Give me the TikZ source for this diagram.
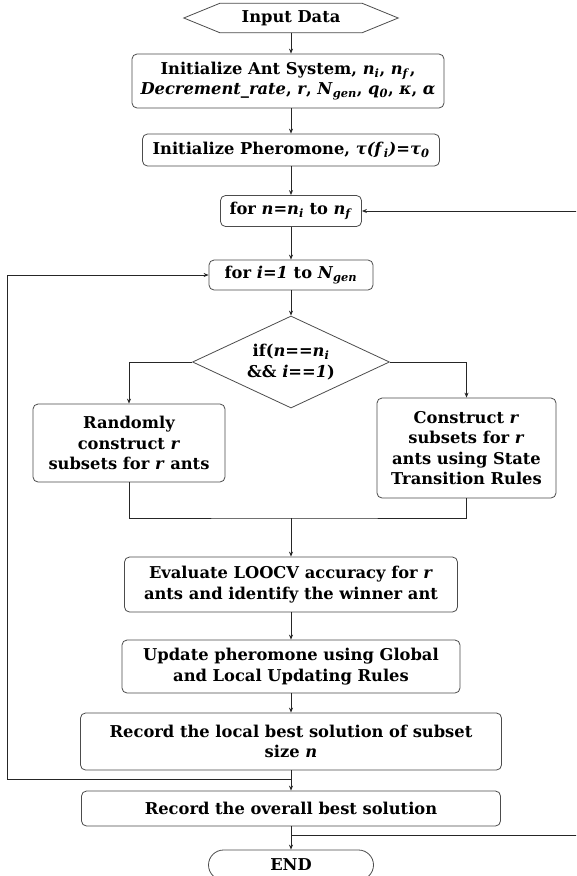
\documentclass[tikz,border=0pt]{standalone}
\usepackage{fontspec}
\setmainfont{DejaVu Serif}
\usetikzlibrary{arrows.meta,shapes.geometric,shapes.misc}
% italic variable and italic subscript
\newcommand\mv[1]{\textit{#1}}
\newcommand\sbs[1]{\textsubscript{\textit{#1}}}

\begin{document}
\begin{tikzpicture}[x=1pt,y=-1pt,
  font=\fontsize{16.3}{20.5}\selectfont\bfseries,
  box/.style={draw=black!70, line width=0.8pt, rounded corners=5pt,
              align=center, inner sep=0pt},
  link/.style={draw=black!85, line width=0.8pt},
  arr/.style={link, -{Stealth[length=5pt,width=4pt]}},
]
\useasboundingbox (0,0) rectangle (576,876);
\clip (0,0) rectangle (576,876);
\fill[white] (0,0) rectangle (576,876);

% start: hexagonal input block
\node (input) at (291,18) [minimum width=214pt, minimum height=29pt, inner sep=0pt] {Input Data};
\draw[draw=black!70, line width=0.8pt]
  (input.west) -- ([xshift=36pt]input.north west) -- ([xshift=-36pt]input.north east)
  -- (input.east) -- ([xshift=-36pt]input.south east) -- ([xshift=36pt]input.south west) -- cycle;

\node[box, minimum width=312pt, minimum height=54pt] (init) at (288,81)
  {Initialize Ant System, \mv{n}\sbs{i}, \mv{n}\sbs{f},\\
   \mv{Decrement\_rate}, \mv{r}, \mv{N}\sbs{gen}, \mv{q}\sbs{0}, \mv{κ}, \mv{α}};
\node[box, minimum width=297pt, minimum height=32pt] (pher) at (291,150)
  {Initialize Pheromone, \mv{τ(f}\sbs{i}\mv{)}=\mv{τ}\sbs{0}};
\node[box, minimum width=141pt, minimum height=31pt] (forn) at (291,211)
  {for \mv{n}=\mv{n}\sbs{i} to \mv{n}\sbs{f}};
\node[box, minimum width=164pt, minimum height=30pt] (fori) at (291,275)
  {for \mv{i}=\mv{1} to \mv{N}\sbs{gen}};
\node[draw=black!70, line width=0.8pt, diamond, aspect=2.1, inner sep=0pt,
      minimum width=197pt, minimum height=92pt, align=center] (dec) at (291,362)
  {if(\mv{n}==\mv{n}\sbs{i}\\ \&\& \mv{i}==\mv{1})};
\node[box, minimum width=192pt, minimum height=78pt] (left) at (129,443)
  {Randomly\\ construct \mv{r}\\ subsets for \mv{r} ants};
\node[box, minimum width=179pt, minimum height=100pt] (right) at (466.5,448)
  {Construct \mv{r}\\ subsets for \mv{r}\\ ants using State\\ Transition Rules};
\node[box, minimum width=333pt, minimum height=55pt] (eval) at (291,584.5)
  {Evaluate LOOCV accuracy for \mv{r}\\ ants and identify the winner ant};
\node[box, minimum width=338pt, minimum height=53pt] (upd) at (291,666.5)
  {Update pheromone using Global\\ and Local Updating Rules};
\node[box, minimum width=421pt, minimum height=57pt] (local) at (291,741.5)
  {Record the local best solution of subset\\ size \mv{n}};
\node[box, minimum width=419pt, minimum height=35pt] (overall) at (291,808.5)
  {Record the overall best solution};
\node[draw=black!70, line width=0.8pt, rounded rectangle, inner sep=0pt,
      minimum width=165pt, minimum height=30pt] (end) at (291,865) {END};

% junction points and free ends of the loop connectors
\coordinate (merge) at (291,518);
\coordinate (jl) at (291,779);
\coordinate (lx) at (7,779);
\coordinate (jr) at (291,835);
\coordinate (rx) at (582,835);

% main flow
\draw[arr] (input.south) -- (input.south |- init.north);
\draw[arr] (pher.north |- init.south) -- (pher.north);
\draw[arr] (pher.south) -- (forn.north);
\draw[arr] (forn.south) -- (fori.north);
\draw[arr] (fori.south) -- (dec.north);
\draw[arr] (dec.west) -| (left.north);
\draw[arr] (dec.east) -| (right.north);
\draw[link] (left.south) |- (merge) -| (right.south);
\draw[arr] (merge) -- (eval.north);
\draw[arr] (eval.south) -- (upd.north);
\draw[arr] (upd.south) -- (local.north);
\draw[arr] (local.south) -- (overall.north);
\draw[arr] (overall.south) -- (end.north);

% loop back-edges
\draw[arr] (jl) -- (lx) |- (fori.west);
\draw[arr] (jr) -- (rx) |- (forn.east);
\end{tikzpicture}
\end{document}
